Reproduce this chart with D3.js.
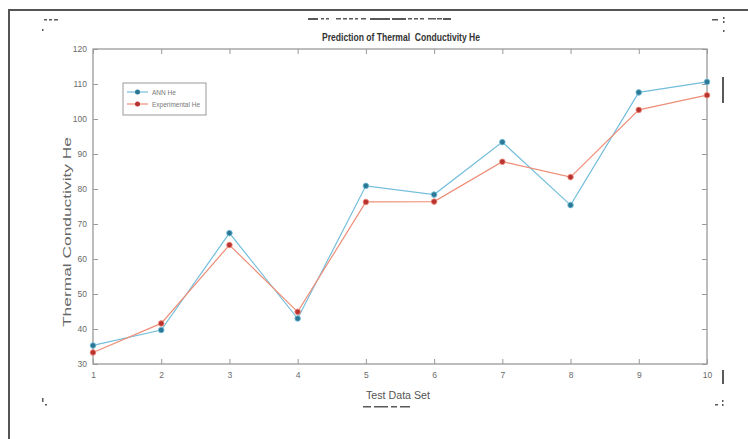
<!DOCTYPE html>
<html><head><meta charset="utf-8">
<script src="https://cdn.jsdelivr.net/npm/d3@7"></script>
<style>body{margin:0;background:#fff}svg{display:block}</style>
</head><body>
<script>
const categories = [1,2,3,4,5,6,7,8,9,10];
const annValues = [35.3, 39.7, 67.4, 43.0, 80.9, 78.4, 93.4, 75.4, 107.6, 110.6];
const expValues = [33.3, 41.6, 64.0, 44.9, 76.3, 76.4, 87.8, 83.4, 102.6, 106.8];
const yTicks = [30,40,50,60,70,80,90,100,110,120];
const seriesNames = ["ANN He", "Experimental He"];

const W = 748, H = 439;
const svg = d3.select("body").append("svg").attr("width", W).attr("height", H);

// outer frame
svg.append("rect").attr("x", 9).attr("y", 10).attr("width", 800).attr("height", 500)
  .attr("fill", "none").attr("stroke", "#555").attr("stroke-width", 2);

const x = d3.scaleLinear().domain([1,10]).range([93,707]);
const y = d3.scaleLinear().domain([30,120]).range([364,49]);

const axisColor = "#9a9a9a";
const labelColor = "#6a6a6a";
const g = svg.append("g");

// box
g.append("rect").attr("x", x(1)).attr("y", y(120)).attr("width", x(10)-x(1)).attr("height", y(30)-y(120))
  .attr("fill", "none").attr("stroke", axisColor).attr("stroke-width", 1.3);

// axes via d3 axes (inward ticks)
const xb = g.append("g").attr("transform", `translate(0,${y(30)})`)
  .call(d3.axisBottom(x).tickValues(categories).tickSize(-5).tickPadding(8).tickFormat(d3.format("d")));
const xt = g.append("g").attr("transform", `translate(0,${y(120)})`)
  .call(d3.axisTop(x).tickValues(categories).tickSize(-5).tickFormat(""));
const yl = g.append("g").attr("transform", `translate(${x(1)},0)`)
  .call(d3.axisLeft(y).tickValues(yTicks).tickSize(-5).tickPadding(6));
const yr = g.append("g").attr("transform", `translate(${x(10)},0)`)
  .call(d3.axisRight(y).tickValues(yTicks).tickSize(-5).tickFormat(""));
[xb,xt,yl,yr].forEach(a => {
  a.select(".domain").remove();
  a.selectAll("line").attr("stroke", axisColor);
  a.selectAll("text").attr("fill", labelColor).style("font-family", "Liberation Sans, sans-serif").style("font-size", "8.5px");
});

// series
const series = [
  {name: seriesNames[0], values: annValues, line: "#74bedc", marker: "#2a7894"},
  {name: seriesNames[1], values: expValues, line: "#ef8e78", marker: "#b83232"}
];
const lineGen = d3.line().x((d,i) => x(categories[i])).y(d => y(d));
series.forEach(s => {
  g.append("path").attr("d", lineGen(s.values)).attr("fill", "none").attr("stroke", s.line).attr("stroke-width", 1.2);
});
series.forEach(s => {
  g.selectAll(null).data(s.values).enter().append("circle")
    .attr("cx", (d,i) => x(categories[i])).attr("cy", d => y(d)).attr("r", 2.8)
    .attr("fill", s.marker).attr("stroke", s.line).attr("stroke-width", 0.8);
});

// legend
const lg = svg.append("g");
lg.append("rect").attr("x", 123).attr("y", 83).attr("width", 83).attr("height", 32)
  .attr("fill", "#fff").attr("stroke", "#999").attr("stroke-width", 1);
series.forEach((s, i) => {
  const ly = 92 + i*12;
  lg.append("line").attr("x1", 127).attr("x2", 148).attr("y1", ly).attr("y2", ly).attr("stroke", s.line).attr("stroke-width", 1.2);
  lg.append("circle").attr("cx", 137.5).attr("cy", ly).attr("r", 2.5).attr("fill", s.marker);
  lg.append("text").attr("x", 152).attr("y", ly + 2.5).text(s.name)
    .attr("fill", "#777").style("font-family", "Liberation Sans, sans-serif").style("font-size", "6.5px");
});

// title & labels
svg.append("text").attr("x", 401).attr("y", 41).attr("text-anchor", "middle")
  .attr("textLength", 158).attr("lengthAdjust", "spacingAndGlyphs")
  .style("font-family", "Liberation Sans, sans-serif").style("font-size", "11px").style("font-weight", "bold")
  .style("white-space", "pre")
  .attr("fill", "#333").text("Prediction of Thermal  Conductivity He");
svg.append("text").attr("x", 398).attr("y", 399).attr("text-anchor", "middle")
  .attr("textLength", 64).attr("lengthAdjust", "spacingAndGlyphs")
  .style("font-family", "Liberation Sans, sans-serif").style("font-size", "10px")
  .attr("fill", "#555").text("Test Data Set");
svg.append("text").attr("transform", "translate(71,232) rotate(-90)").attr("text-anchor", "middle")
  .attr("textLength", 190).attr("lengthAdjust", "spacingAndGlyphs")
  .style("font-family", "Liberation Sans, sans-serif").style("font-size", "10px")
  .attr("fill", "#666").text("Thermal Conductivity He");

// scanning artefacts (marks)
const dark = "#222";
const marks = [
  [44,19,3,1.5],[49,19,3,1.5],[54,19,4,1.5],[42,29,1.5,2],
  [308,18,10,2],[321,18,3,1.5],[326,18,3,1.5],[336,18,5,1.5],[343,18,4,1.5],[349,18,4,1.5],[355,18,3,1.5],[361,18,5,1.5],
  [370,18,20,2],[392,18,14,2],[408,18,4,1.5],[414,18,4,1.5],[420,18,4,1.5],[428,18,8,1.5],[437,18,5,1.5],[443,18,8,2],
  [712,19,6,1.5],[723,17,1.5,2],[723,21,1.5,2],[723,30,1.5,2],
  [722,77,2,26],[722,370,2,14],
  [42,398,1.5,4],[45,404,2,1.5],[715,404,3,1.5],[722,400,1.5,2],[722,404,1.5,2],
  [363,406,8,1.5],[374,406,14,1.5],[391,406,6,1.5],[400,406,10,1.5]
];
svg.selectAll(null).data(marks).enter().append("rect")
  .attr("x", d => d[0]).attr("y", d => d[1]).attr("width", d => d[2]).attr("height", d => d[3])
  .attr("fill", dark).attr("opacity", 0.75);
</script>
</body></html>
